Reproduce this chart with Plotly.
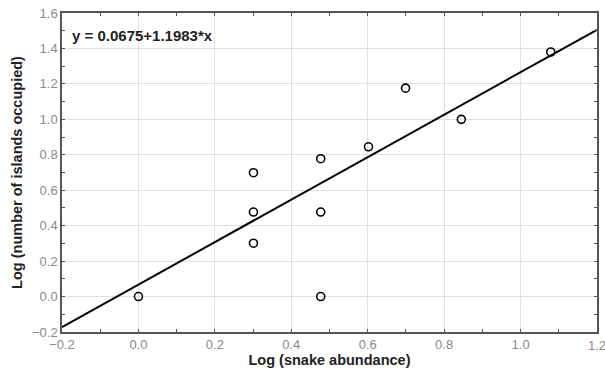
import plotly.graph_objects as go

x_vals = [0.0, 0.301, 0.301, 0.301, 0.477, 0.477, 0.477, 0.602, 0.699, 0.845, 1.079]
y_vals = [0.0, 0.301, 0.477, 0.699, 0.0, 0.477, 0.778, 0.845, 1.176, 1.0, 1.380]
intercept = 0.0675
slope = 1.1983
line_x = [-0.2, 1.2]
line_y = [intercept + slope * v for v in line_x]

fig = go.Figure()
fig.add_trace(go.Scatter(x=line_x, y=line_y, mode="lines",
                         line=dict(color="black", width=2), showlegend=False))
fig.add_trace(go.Scatter(x=x_vals, y=y_vals, mode="markers",
                         marker=dict(symbol="circle-open", size=8, color="black",
                                     line=dict(width=1.6, color="black")),
                         showlegend=False))

FONT = "Liberation Sans, Arial"
TICK_FONT = dict(family=FONT, size=13, color="#8a8a8a")
axis_common = dict(
    showgrid=True, gridcolor="#e0e0e0", gridwidth=1,
    showline=True, linecolor="#555555", linewidth=1.5, mirror="ticks",
    ticks="inside", ticklen=3, tickcolor="#555555",
    zeroline=False, automargin=False,
    tickfont=TICK_FONT,
    minor=dict(ticks="inside", ticklen=3, tickcolor="#555555", showgrid=False),
)

fig.update_xaxes(range=[-0.2, 1.2], dtick=0.2, tick0=-0.2, tickformat=".1f",
                 minor_dtick=0.1,
                 title=dict(text="<b>Log (snake abundance)</b>",
                            font=dict(family=FONT, size=14.5, color="#222222"),
                            standoff=4),
                 **axis_common)
fig.update_yaxes(range=[-0.2, 1.6], dtick=0.2, tick0=-0.2, tickformat=".1f",
                 minor_dtick=0.1,
                 title=dict(text="<b>Log (number of islands occupied)</b>",
                            font=dict(family=FONT, size=14.5, color="#222222"),
                            standoff=6),
                 **axis_common)

# last x tick label (plotly hides it because it overflows the page edge)
fig.add_annotation(x=1.2, y=0, xref="x", yref="paper", yshift=-4,
                   text="1.2", showarrow=False, xanchor="center", yanchor="top",
                   font=TICK_FONT)

fig.add_annotation(x=0.015, y=0.93, xref="paper", yref="paper",
                   text="<b>y = 0.0675+1.1983*x</b>", showarrow=False,
                   xanchor="left", yanchor="middle",
                   font=dict(family=FONT, size=15, color="#222222"))

fig.update_layout(width=605, height=374, plot_bgcolor="white", paper_bgcolor="white",
                  margin=dict(l=62, r=8, t=13, b=42))

fig.write_html("out.html", config={"displayModeBar": False},
               post_script="document.body.style.margin='0';document.body.style.overflow='hidden';")
